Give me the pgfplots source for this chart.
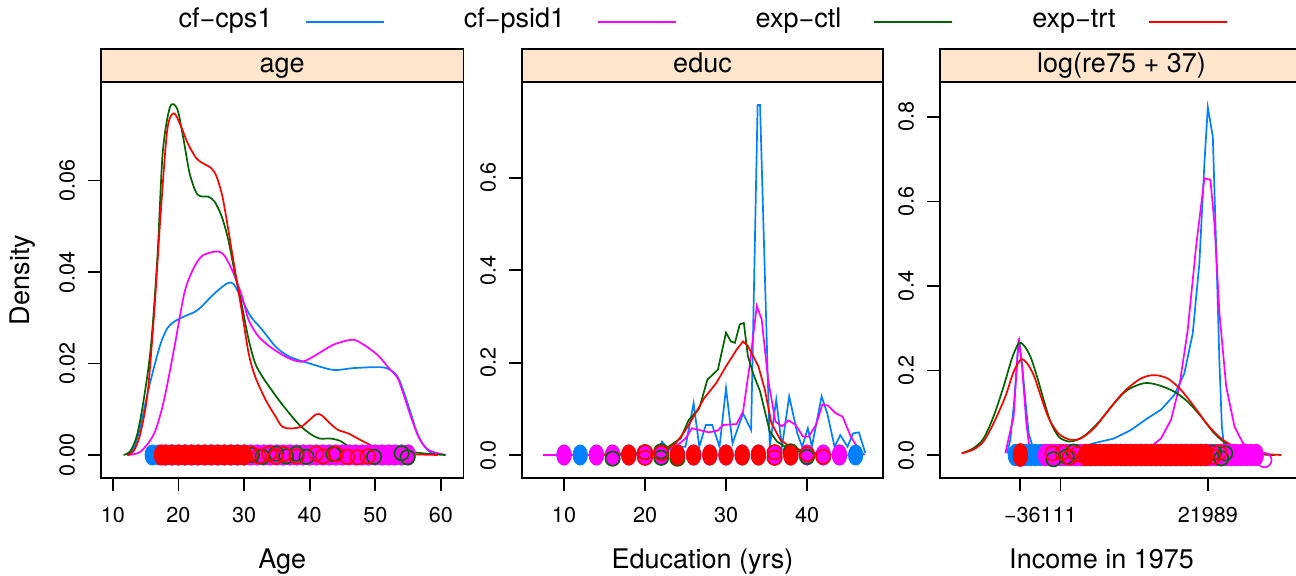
\documentclass[border=0pt]{standalone}
\usepackage{fontspec}
\setmainfont{TeX Gyre Heros}
\usepackage{pgfplots}
\pgfplotsset{compat=1.18}

\definecolor{cps}{HTML}{0080FF}
\definecolor{psid}{HTML}{FF00FF}
\definecolor{ctl}{HTML}{006400}
\definecolor{trt}{HTML}{FF0000}
\definecolor{stripbg}{HTML}{FFE5CC}

\newcommand\bigfont{\fontsize{13.5}{16}\selectfont}
\newcommand\tickfont{\fontsize{10.8}{13}\selectfont}

\pgfplotsset{
  panel/.style={
    scale only axis, height=198pt,
    axis line style={line width=0.9pt},
    every tick/.style={line width=0.9pt, black},
    tick align=outside, major tick length=6.5pt,
    tick pos=left,
    scaled ticks=false,
    /pgf/number format/assume math mode=true,
    tick label style={font=\tickfont},
    xticklabel shift=4.5pt, yticklabel shift=3pt,
    yticklabel style={rotate=90, anchor=south},
    label style={font=\bigfont},
  },
  dens/.style={line width=0.85pt, no markers},
  fill pts/.style={only marks, mark=*, mark size=3.6pt},
  ring pts/.style={only marks, mark=o, mark size=3.6pt, mark options={line width=0.8pt}},
}

\begin{document}
\begin{tikzpicture}
\path[use as bounding box] (0pt,0pt) rectangle (648pt,-288pt);

% legend across the top
\node[anchor=mid, font=\bigfont] at (112.75pt,-11pt) {cf−cps1};
\draw[cps, line width=0.9pt] (153pt,-11pt) -- (192pt,-11pt);
\node[anchor=mid, font=\bigfont] at (257.25pt,-11pt) {cf−psid1};
\draw[psid, line width=0.9pt] (299pt,-11pt) -- (338pt,-11pt);
\node[anchor=mid, font=\bigfont] at (399.25pt,-11pt) {exp−ctl};
\draw[ctl, line width=0.9pt] (437pt,-11pt) -- (476pt,-11pt);
\node[anchor=mid, font=\bigfont] at (537pt,-11pt) {exp−trt};
\draw[trt, line width=0.9pt] (574.5pt,-11pt) -- (613.5pt,-11pt);

% strips
\draw[fill=stripbg, line width=0.9pt] (50.5pt,-41pt) rectangle (231.75pt,-24.5pt);
\node[anchor=mid, font=\bigfont] at (141.1pt,-33.5pt) {age};
\draw[fill=stripbg, line width=0.9pt] (261pt,-41pt) rectangle (441.5pt,-24.5pt);
\node[anchor=mid, font=\bigfont] at (351.25pt,-33.5pt) {educ};
\draw[fill=stripbg, line width=0.9pt] (470pt,-41pt) rectangle (651.5pt,-24.5pt);
\node[anchor=mid, font=\bigfont] at (560.75pt,-33.5pt) {log(re75 + 37)};

% ---------------- age
\begin{axis}[panel, at={(50.5pt,-239pt)}, anchor=south west, width=181.25pt,
  xmin=8.2, xmax=63.43, ymin=-0.00503, ymax=0.08154,
  xtick={10,20,30,40,50,60}, xticklabels={10,20,30,40,50,60},
  ytick={0,0.02,0.04,0.06}, yticklabels={0.00,0.02,0.04,0.06},
  xlabel={Age}, ylabel={Density},
  xlabel style={at={(axis description cs:0.5,-0.216)}, anchor=mid},
  ylabel style={at={(axis description cs:-0.212,0.5)}, anchor=mid, rotate=0},
]
\addplot[fill pts, cps, mark options={yscale=1.4}] coordinates {
 (16,0)(17,0)(18,0)(19,0)(20,0)(21,0)(22,0)(23,0)(24,0)(25,0)(26,0)(27,0)(28,0)(29,0)(30,0)
 (31,0)(32,0)(33,0)(34,0)(35,0)(36,0)(37,0)(38,0)(39,0)(40,0)(41,0)(42,0)(43,0)(44,0)(45,0)
 (46,0)(47,0)(48,0)(49,0)(50,0)(51,0)(52,0)(53,0)(54,0)(55,0)};
\addplot[dens, cps, smooth] coordinates {
 (12.2,0)(13.2,0.0015)(14.2,0.0062)(15.3,0.0135)(16.3,0.0193)(17.3,0.0244)(18.3,0.0277)
 (19.4,0.0292)(20.9,0.0303)(22.5,0.0313)(23.5,0.0324)(24.5,0.0339)(25.8,0.0357)(27.4,0.0375)
 (28.4,0.0374)(29.7,0.0339)(31.0,0.0303)(32.8,0.0273)(34.8,0.0237)(36.9,0.0215)(40.0,0.0200)
 (43.6,0.0186)(46.7,0.0190)(50.8,0.0192)(52.3,0.0186)(53.4,0.0171)(54.4,0.0135)(55.4,0.0091)
 (56.4,0.0047)(57.5,0.0018)(58.5,0.0005)(59.5,0)};
\addplot[fill pts, psid, mark options={yscale=1.4}] coordinates {
 (17.4,0)(18,0)(19,0)(20,0)(21,0)(22,0)(23,0)(24,0)(25,0)(26,0)(27,0)(28,0)(29,0)(30,0)
 (31,0)(32,0)(33,0)(34,0)(35,0)(36,0)(37,0)(38,0)(39,0)(40,0)(41,0)(42,0)(43,0)(44,0)(45,0)
 (46,0)(47,0)(48,0)(49,0)(50,0)(51,0)(52,0)(53,0)(54,0)(55,0)};
\addplot[dens, psid, smooth] coordinates {
 (12.2,0)(14.2,0.0007)(16.3,0.0047)(17.8,0.012)(19.4,0.0237)(20.9,0.0354)(22.2,0.0405)
 (23.5,0.0434)(25.0,0.0443)(26.1,0.0445)(27.1,0.0434)(28.4,0.0397)(29.7,0.0346)(30.7,0.0295)
 (32.2,0.0259)(34.3,0.0233)(36.9,0.0211)(38.9,0.0204)(41.0,0.0219)(43.6,0.0241)(46.4,0.0252)
 (47.9,0.0244)(50.3,0.0219)(52.3,0.0186)(53.4,0.0168)(54.4,0.0128)(55.4,0.0084)(56.7,0.0036)
 (58.0,0.0012)(59.5,0.0004)(60.8,0)};
\addplot[ring pts, ctl] coordinates {
 (31.2,0)(32.8,-0.0004)(34.9,0.0003)(36.4,-0.0003)(38,0.0003)(39.5,-0.0004)(43.6,0.0002)
 (49.8,-0.0004)(54,0.0004)(54.9,-0.0005)};
\addplot[dens, ctl, smooth] coordinates {
 (11.65,0)(12.7,0.0009)(13.7,0.0044)(14.7,0.012)(15.8,0.0237)(16.8,0.0434)(17.6,0.066)
 (18.7,0.076)(19.8,0.0757)(20.7,0.0696)(21.7,0.0616)(22.7,0.0574)(23.5,0.0565)(24.5,0.0565)
 (25.5,0.0554)(26.6,0.0521)(27.6,0.047)(28.6,0.0397)(29.7,0.0324)(30.7,0.0252)(31.7,0.02)
 (32.8,0.0171)(33.8,0.015)(35.3,0.012)(36.9,0.0091)(38.4,0.0066)(40.0,0.0047)(41.5,0.0036)
 (43.1,0.0036)(44.6,0.0031)(46.1,0.0018)(48.2,0.0011)(50.8,0.0011)(52.8,0.0009)(54.4,0.0009)
 (56.4,0.0005)(58.5,0.0002)(60.6,0)};
\addplot[fill pts, trt, mark options={yscale=1.4}] coordinates {
 (17.4,0)(18,0)(19,0)(20,0)(21,0)(22,0)(23,0)(24,0)(25,0)(26,0)(27,0)(28,0)(29,0)(30,0)};
\addplot[ring pts, trt] coordinates {
 (31,0.0003)(32.3,-0.0003)(33.8,0.0003)(34.8,-0.0004)(36,0.0002)(38,-0.0003)(41,0.0003)
 (42,-0.0003)(44,0.0002)(45.7,-0.0004)(47.3,-0.0005)(48.8,-0.0003)};
\addplot[dens, trt, smooth] coordinates {
 (12.2,0)(13.2,0.0009)(14.2,0.0047)(15.3,0.0135)(16.3,0.031)(17.3,0.0529)(18.3,0.0711)
 (19.3,0.0747)(20.4,0.0718)(21.4,0.0682)(22.7,0.0649)(23.7,0.0638)(25.0,0.0627)(25.8,0.0609)
 (26.7,0.0565)(27.6,0.0492)(28.6,0.0405)(29.7,0.031)(30.7,0.0222)(31.7,0.0171)(33.3,0.012)
 (34.8,0.0084)(35.8,0.0062)(37.1,0.0058)(38.7,0.0062)(40.0,0.0077)(41.0,0.0089)(41.8,0.0087)
 (43.1,0.0069)(44.3,0.0055)(45.9,0.0047)(47.7,0.0033)(49.2,0.0022)(50.8,0.0011)(52.3,0.0007)
 (53.4,0.0004)(54.4,0.0002)(59.5,0)};
\end{axis}

% ---------------- educ
\begin{axis}[panel, at={(261pt,-239pt)}, anchor=south west, width=180.5pt,
  xmin=4.815, xmax=49.38, ymin=-0.0498, ymax=0.8079,
  xtick={10,20,30,40}, xticklabels={10,20,30,40},
  ytick={0,0.2,0.4,0.6}, yticklabels={0.0,0.2,0.4,0.6},
  xlabel={Education (yrs)},
  xlabel style={at={(axis description cs:0.5,-0.216)}, anchor=mid},
]
\addplot[fill pts, cps, mark options={yscale=1.4}] coordinates {
 (10,0)(12,0)(14,0)(16,0)(18,0)(20,0)(22,0)(24,0)(26,0)(28,0)(30,0)(32,0)(34,0)(36,0)
 (38,0)(40,0)(42,0)(44,0)(46,0)};
\addplot[dens, cps] coordinates {
 (8.7,0)(21.3,0)(22.1,0.029)(22.9,0.011)(24.0,0.018)(25.0,0.018)(26.0,0.112)(26.7,0.018)
 (27.5,0.065)(28.3,0.065)(29.2,0.018)(30.0,0.145)(30.8,0.025)(32.1,0.09)(33.1,0.054)
 (33.9,0.758)(34.2,0.758)(35.4,0.018)(36.2,0.12)(36.9,0.018)(37.8,0.127)(38.8,0.047)
 (39.4,0.018)(40.1,0.058)(40.6,0.018)(41.8,0.127)(42.5,0.09)(43.4,0.018)(44.1,0.043)
 (45.0,0.018)(45.7,0.047)(46.4,0.049)(47.2,0.004)};
\addplot[fill pts, psid, mark options={yscale=1.4}] coordinates {
 (10,0)(14,0)(16,0)(18,0)(20,0)(22,0)(24,0)(26,0)(28,0)(30,0)(32,0)(34,0)(36,0)
 (38,0)(40,0)(42,0)(44,0)};
\addplot[dens, psid] coordinates {
 (7.4,0)(20.4,0)(22.1,0.011)(23.8,0.018)(25.0,0.036)(25.8,0.058)(26.7,0.054)(27.9,0.049)
 (29.0,0.053)(29.6,0.065)(31.3,0.067)(32.1,0.094)(32.9,0.192)(33.8,0.323)(34.4,0.294)
 (35.2,0.163)(36.1,0.0725)(36.9,0.062)(37.7,0.075)(38.6,0.065)(39.5,0.040)(40.2,0.040)
 (41.1,0.065)(41.9,0.109)(42.6,0.107)(43.5,0.091)(44.4,0.083)(45.4,0.040)(46.5,0.0094)(47.1,0)};
\addplot[ring pts, ctl] coordinates {
 (16,-0.008)(20,0.006)(22,0.008)(22,-0.006)(24,-0.008)(38,0.008)(40,-0.004)};
\addplot[dens, ctl] coordinates {
 (13.8,0)(21.3,0.007)(22.9,0.018)(24.4,0.036)(25.4,0.076)(26.7,0.101)(27.7,0.163)(29.0,0.185)
 (30.0,0.265)(30.6,0.246)(31.1,0.243)(31.7,0.283)(32.2,0.286)(32.7,0.214)(33.4,0.174)
 (34.2,0.138)(35.4,0.051)(36.3,0.029)(37.3,0.018)(38.8,0.009)(40.0,0.005)(41.3,0)};
\addplot[fill pts, trt, mark options={yscale=1.4}] coordinates {
 (18,0)(24,0)(26,0)(28,0)(30,0)(32,0)(34,0)(38,0)};
\addplot[ring pts, trt] coordinates {
 (20,0.006)(20,-0.006)(22,0.004)(36,0.006)(36,-0.006)(40,0.002)(42,-0.004)};
\addplot[dens, trt] coordinates {
 (13.8,0)(22.1,0.007)(23.8,0.025)(25.0,0.054)(26.0,0.083)(27.3,0.123)(28.8,0.156)(30.0,0.192)
 (31.3,0.228)(32.1,0.246)(32.7,0.236)(34.0,0.192)(34.8,0.141)(35.6,0.069)(36.7,0.033)
 (37.9,0.018)(40.0,0.007)(42.1,0.002)(45.0,0)};
\end{axis}

% ---------------- log(re75 + 37)
\begin{axis}[panel, at={(470pt,-239pt)}, anchor=south west, width=181.5pt,
  xmin=0, xmax=36.15, ymin=-0.0544, ymax=0.8828,
  xtick={8,12,26.67}, xticklabels={,,21989},
  extra x ticks={10}, extra x tick labels={−36111},
  extra x tick style={tick style={draw=none}, tick label style={font=\tickfont}},
  ytick={0,0.2,0.4,0.6,0.8}, yticklabels={0.0,0.2,0.4,0.6,0.8},
  xlabel={Income in 1975},
  xlabel style={at={(axis description cs:0.445,-0.216)}, anchor=mid},
]
\addplot[fill pts, cps, mark options={yscale=1.5}] coordinates {
 (7.5,0)(8,0)(8.5,0)(9,0)(9.5,0)(10,0)(10.5,0)(11,0)(11.5,0)(12,0)(12.5,0)(13,0)(13.5,0)
 (14,0)(14.5,0)(15,0)(15.5,0)(16,0)(16.5,0)(17,0)(17.5,0)(18,0)(18.5,0)(19,0)(19.5,0)
 (20,0)(20.5,0)(21,0)(21.5,0)(22,0)(22.5,0)(23,0)(23.5,0)(24,0)(24.5,0)(25,0)(25.5,0)
 (26,0)(26.5,0)(27,0)(27.5,0)(28,0)(28.5,0)(29,0)};
\addplot[dens, cps] coordinates {
 (6.67,0.004)(7.0,0.036)(7.4,0.130)(7.73,0.241)(7.9,0.268)(8.17,0.217)(8.5,0.130)(8.83,0.051)
 (9.33,0.012)(10.67,0.0055)(13.33,0.012)(15.33,0.028)(17.33,0.039)(19.0,0.059)(20.67,0.087)
 (22.0,0.107)(23.33,0.142)(24.33,0.193)(25.17,0.288)(25.83,0.454)(26.33,0.690)(26.67,0.823)
 (27.17,0.753)(27.5,0.493)(27.83,0.217)(28.07,0.067)(28.33,0.012)(29.0,0.002)};
\addplot[fill pts, psid, mark options={yscale=1.5}] coordinates {
 (10.5,0)(11,0)(11.5,0)(12,0)(12.5,0)(13,0)(13.5,0)(14,0)(14.5,0)(15,0)(15.5,0)(16,0)
 (16.5,0)(17,0)(17.5,0)(18,0)(18.5,0)(19,0)(19.5,0)(20,0)(20.5,0)(21,0)(21.5,0)(22,0)
 (22.5,0)(23,0)(23.5,0)(24,0)(24.5,0)(25,0)(25.5,0)(26,0)(26.5,0)(27,0)(27.5,0)(28,0)
 (28.5,0)(29,0)(29.5,0)(30,0)(30.5,0)(31,0)(31.5,0)};
\addplot[ring pts, psid] coordinates {(32.3,-0.012)};
\addplot[dens, psid] coordinates {
 (6.5,0.004)(7.33,0.091)(7.83,0.276)(8.17,0.209)(8.6,0.075)(8.93,0.012)(9.67,0.002)
 (20.0,0.002)(21.0,0.020)(22.0,0.039)(23.0,0.083)(23.83,0.162)(24.67,0.296)(25.5,0.493)
 (26.33,0.655)(26.93,0.651)(27.33,0.548)(27.83,0.335)(28.5,0.162)(29.33,0.067)(30.17,0.028)
 (31.0,0.012)(32.0,0.004)(33.0,0)};
\addplot[ring pts, ctl] coordinates {
 (11.3,-0.01)(12.6,-0.004)(13.3,0.008)(27.3,0.006)(28.0,-0.008)(28.4,0.004)};
\addplot[dens, ctl, smooth] coordinates {
 (2.17,0.004)(3.33,0.016)(4.33,0.039)(5.33,0.091)(6.33,0.162)(7.17,0.229)(7.83,0.264)
 (8.33,0.260)(9.0,0.233)(9.67,0.185)(10.33,0.130)(11.0,0.079)(11.83,0.043)(12.83,0.032)
 (13.67,0.036)(14.67,0.051)(16.0,0.083)(17.33,0.122)(18.67,0.154)(20.33,0.170)(21.67,0.166)
 (23.33,0.150)(24.67,0.126)(26.0,0.091)(27.33,0.051)(28.67,0.024)(30.0,0.0095)(31.67,0.002)
 (33.33,0)};
\addplot[fill pts, trt, mark options={yscale=1.6}] coordinates {(8,0)};
\addplot[fill pts, trt, mark options={yscale=1.5}] coordinates {
 (14.5,0)(15,0)(15.5,0)(16,0)(16.5,0)(17,0)(17.5,0)(18,0)(18.5,0)(19,0)(19.5,0)(20,0)
 (20.5,0)(21,0)(21.5,0)(22,0)(22.5,0)(23,0)(23.5,0)(24,0)(24.5,0)(25,0)(25.5,0)(26,0)(26.5,0)};
\addplot[ring pts, trt] coordinates {
 (11.2,0.004)(12.2,0.006)(12.9,-0.006)(13.6,0.002)(27.2,-0.004)(27.8,0.006)};
\addplot[dens, trt, smooth] coordinates {
 (2.17,0.004)(3.33,0.013)(4.33,0.032)(5.33,0.075)(6.5,0.138)(7.33,0.197)(8.07,0.226)
 (8.67,0.217)(9.33,0.189)(10.0,0.142)(10.83,0.087)(11.83,0.050)(13.0,0.036)(14.0,0.039)
 (15.33,0.063)(16.67,0.103)(18.33,0.150)(20.0,0.181)(21.33,0.189)(22.67,0.181)(24.0,0.154)
 (25.33,0.114)(26.67,0.071)(28.0,0.039)(29.33,0.020)(31.0,0.008)(32.67,0.002)(34.0,0)};
\end{axis}
\end{tikzpicture}
\end{document}
